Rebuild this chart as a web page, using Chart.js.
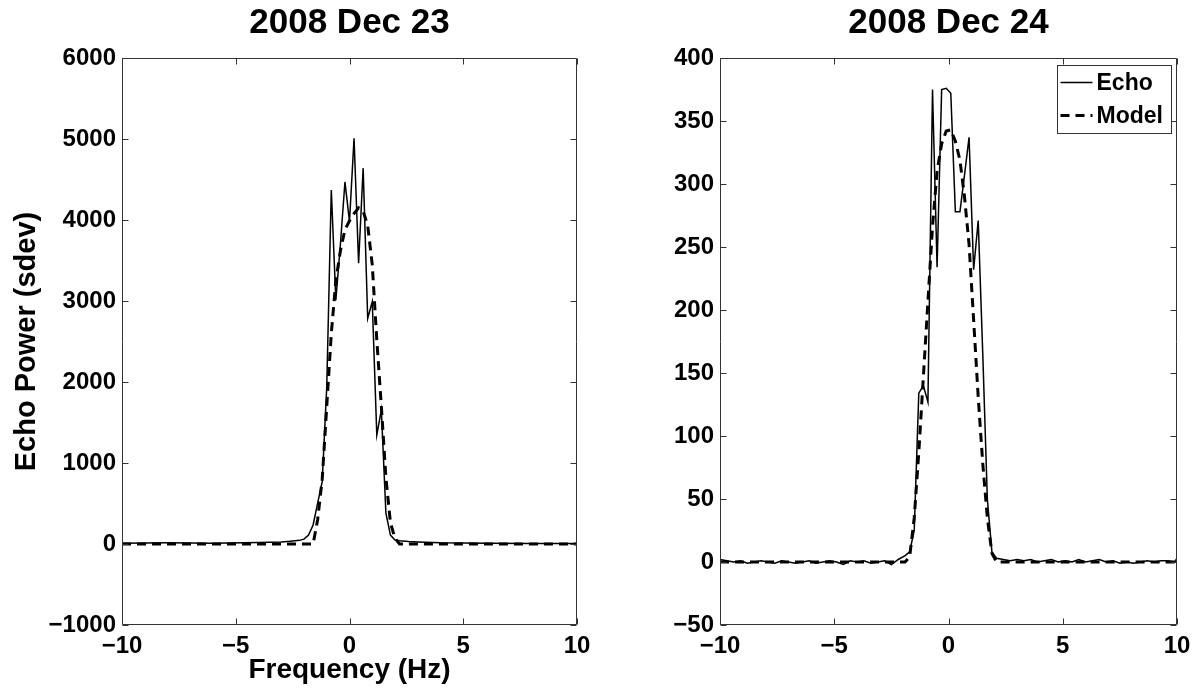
<!DOCTYPE html>
<html>
<head>
<meta charset="utf-8">
<title>Echo Power</title>
<script src="https://cdn.jsdelivr.net/npm/chart.js@4/dist/chart.umd.min.js"></script>
<style>
  body { margin: 0; background: #fff; }
  #wrap { position: relative; width: 1199px; height: 691px; }
  canvas { position: absolute; top: 0; }
  #chartDec23 { left: 0; }
  #chartDec24 { left: 600px; }
</style>
</head>
<body>
<div id="wrap">
  <canvas id="chartDec23" width="600" height="691"></canvas>
  <canvas id="chartDec24" width="599" height="691"></canvas>
</div>
<script>
// DATA
var freqTicks = [-10, -5, 0, 5, 10];
var powerTicks23 = [-1000, 0, 1000, 2000, 3000, 4000, 5000, 6000];
var powerTicks24 = [-50, 0, 50, 100, 150, 200, 250, 300, 350, 400];

// 2008 Dec 23
var echoFreq23 = [-10, -8, -6, -4, -3, -2.6, -2.2, -2.0, -1.8, -1.6, -1.4, -1.2, -1.0, -0.8, -0.6, -0.4, -0.2, 0, 0.2, 0.4, 0.6, 0.8, 1.0, 1.2, 1.4, 1.6, 1.8, 2.0, 2.2, 2.6, 3.0, 4, 6, 8, 10];
var echoPow23 = [10, 15, 10, 20, 25, 35, 45, 60, 110, 235, 505, 770, 1940, 4370, 3010, 3700, 4470, 3980, 5010, 3465, 4640, 2785, 2990, 1345, 1655, 380, 110, 50, 40, 30, 25, 15, 10, 5, 5];
var modelFreq23 = [-10, -1.6, -1.4, -1.2, -1.0, -0.8, -0.6, -0.4, -0.2, 0, 0.2, 0.4, 0.6, 0.8, 1.0, 1.2, 1.4, 1.6, 1.8, 2.0, 2.2, 10];
var modelPow23 = [0, 0, 300, 800, 1700, 2600, 3250, 3620, 3880, 3990, 4080, 4150, 4110, 3930, 3450, 2520, 1700, 820, 260, 70, 0, 0];

// 2008 Dec 24
var echoFreq24 = [-10, -9.7, -9.4, -9.1, -8.8, -8.5, -8.2, -7.9, -7.6, -7.3, -7.0, -6.7, -6.4, -6.1, -5.8, -5.5, -5.2, -4.9, -4.6, -4.3, -4.0, -3.7, -3.4, -3.1, -2.8, -2.5, -2.2, -1.9,
  -1.7, -1.5, -1.3, -1.1, -0.9, -0.7, -0.5, -0.3, -0.1, 0.1, 0.3, 0.5, 0.7, 0.9, 1.1, 1.3, 1.5, 1.7, 1.9,
  2.1, 2.4, 2.7, 3.0, 3.3, 3.6, 3.9, 4.2, 4.5, 4.8, 5.1, 5.4, 5.7, 6.0, 6.3, 6.6, 6.9, 7.2, 7.5, 7.8, 8.1, 8.4, 8.7, 9.0, 9.3, 9.6, 9.9, 10];
var echoPow24 = [2, 1, 0, 1, -1, 0, 1, 0, -1, 1, 0, -1, 0, 1, -1, 0, 1, 0, -2, 1, 0, 1, -1, 0, 1, -2, 2, 5,
  8, 25, 134, 140, 127, 375, 234, 375, 376, 372, 278, 278, 307, 337, 232, 271, 165, 50, 8,
  3, 2, 1, 2, 1, 2, 0, 1, 2, 0, 1, 0, 2, 0, 1, 2, 0, 1, -1, 0, -1, 0, 1, 0, 1, 1, 0, 3];
var modelFreq24 = [-10, -1.9, -1.7, -1.5, -1.3, -1.1, -0.9, -0.7, -0.5, -0.3, -0.1, 0.1, 0.3, 0.5, 0.7, 0.9, 1.1, 1.3, 1.5, 1.7, 1.9, 2.1, 10];
var modelPow24 = [0, 0, 4, 35, 87, 147, 207, 266, 310, 332, 342, 343, 334, 319, 290, 252, 192, 131, 78, 35, 7, 0, 0];

var fontFamily = '"Liberation Sans", Arial, Helvetica, sans-serif';

function toPoints(xs, ys) {
    return xs.map(function (x, i) { return { x: x, y: ys[i] }; });
}

function minusSign(v) {
    return String(v).replace('-', '\u2212');
}

// box round the plot with inward tick marks
var framePlugin = {
    id: 'frame',
    afterDatasetsDraw: function (chart) {
        var ctx = chart.ctx, a = chart.chartArea;
        var xs = chart.scales.x, ys = chart.scales.y;
        var l = Math.round(a.left) + 0.5, r = Math.round(a.right) - 0.5;
        var t = Math.round(a.top) + 0.5, b = Math.round(a.bottom) - 0.5;
        ctx.save();
        ctx.strokeStyle = '#333';
        ctx.lineWidth = 1;
        ctx.beginPath();
        ctx.rect(l, t, r - l, b - t);
        xs.ticks.forEach(function (tk) {
            var px = Math.round(xs.getPixelForValue(tk.value)) + 0.5;
            ctx.moveTo(px, b); ctx.lineTo(px, b - 6);
            ctx.moveTo(px, t); ctx.lineTo(px, t + 6);
        });
        ys.ticks.forEach(function (tk) {
            var py = Math.round(ys.getPixelForValue(tk.value)) + 0.5;
            ctx.moveTo(l, py); ctx.lineTo(l + 6, py);
            ctx.moveTo(r, py); ctx.lineTo(r - 6, py);
        });
        ctx.stroke();
        ctx.restore();
    }
};

// title above the plot
var titlePlugin = {
    id: 'plotTitle',
    afterDraw: function (chart) {
        var ctx = chart.ctx, a = chart.chartArea;
        ctx.save();
        ctx.fillStyle = '#000';
        ctx.font = 'bold 35px ' + fontFamily;
        ctx.textAlign = 'center';
        ctx.textBaseline = 'middle';
        ctx.fillText(chart.options.plugins.plotTitle.text, (a.left + a.right) / 2, 23);
        ctx.restore();
    }
};

// boxed legend in the top right corner
var boxLegendPlugin = {
    id: 'boxLegend',
    afterDraw: function (chart) {
        var opts = chart.options.plugins.boxLegend;
        if (!opts || !opts.display) return;
        var ctx = chart.ctx, a = chart.chartArea;
        var w = 114, h = 68;
        var x0 = Math.round(a.right - 6 - w) + 0.5, y0 = Math.round(a.top + 7) + 0.5;
        ctx.save();
        ctx.fillStyle = '#fff';
        ctx.fillRect(x0, y0, w, h);
        ctx.strokeStyle = '#333';
        ctx.lineWidth = 1;
        ctx.strokeRect(x0, y0, w, h);
        ctx.font = 'bold 23px ' + fontFamily;
        ctx.textBaseline = 'middle';
        ctx.fillStyle = '#000';
        chart.data.datasets.forEach(function (ds, i) {
            var yy = y0 + 17 + i * 33;
            ctx.strokeStyle = ds.borderColor;
            ctx.lineWidth = ds.borderWidth;
            ctx.setLineDash(ds.borderDash || []);
            ctx.beginPath();
            ctx.moveTo(x0 + 3, yy);
            ctx.lineTo(x0 + 35, yy);
            ctx.stroke();
            ctx.setLineDash([]);
            ctx.fillText(ds.label, x0 + 39, yy + 1);
        });
        ctx.restore();
    }
};

function makeChart(id, opts) {
    return new Chart(document.getElementById(id), {
        type: 'line',
        data: {
            datasets: [{
                label: 'Echo',
                data: toPoints(opts.echoFreq, opts.echoPow),
                borderColor: '#000',
                borderWidth: 1.5,
                pointRadius: 0,
                tension: 0,
                order: 1
            }, {
                label: 'Model',
                data: toPoints(opts.modelFreq, opts.modelPow),
                borderColor: '#000',
                borderWidth: 3,
                borderDash: [9, 6],
                pointRadius: 0,
                tension: 0,
                order: 0
            }]
        },
        options: {
            responsive: false,
            animation: false,
            devicePixelRatio: 1,
            layout: { padding: { top: 58, right: opts.padRight, left: 0, bottom: 0 } },
            plugins: {
                legend: { display: false },
                tooltip: { enabled: false },
                plotTitle: { text: opts.title },
                boxLegend: { display: opts.legend }
            },
            scales: {
                x: {
                    type: 'linear',
                    min: -10,
                    max: 10,
                    afterBuildTicks: function (scale) {
                        scale.ticks = freqTicks.map(function (v) { return { value: v }; });
                    },
                    afterFit: function (scale) { scale.height = 66; },
                    grid: { display: false, drawTicks: false },
                    border: { display: false },
                    ticks: {
                        color: '#000',
                        padding: 7,
                        maxRotation: 0,
                        font: { family: fontFamily, size: 24, weight: 'bold' },
                        callback: function (v) { return minusSign(v); }
                    },
                    title: {
                        display: opts.xTitle,
                        text: 'Frequency (Hz)',
                        color: '#000',
                        padding: { top: 0, bottom: 4 },
                        font: { family: fontFamily, size: 28, weight: 'bold' }
                    }
                },
                y: {
                    type: 'linear',
                    min: opts.yTicks[0],
                    max: opts.yTicks[opts.yTicks.length - 1],
                    afterBuildTicks: function (scale) {
                        scale.ticks = opts.yTicks.map(function (v) { return { value: v }; });
                    },
                    afterFit: function (scale) { scale.width = opts.yWidth; },
                    grid: { display: false, drawTicks: false },
                    border: { display: false },
                    ticks: {
                        color: '#000',
                        padding: 6,
                        font: { family: fontFamily, size: 24, weight: 'bold' },
                        callback: function (v) { return minusSign(v); }
                    },
                    title: {
                        display: opts.yTitle,
                        text: 'Echo Power (sdev)',
                        color: '#000',
                        padding: { top: 10, bottom: 0 },
                        font: { family: fontFamily, size: 29, weight: 'bold' }
                    }
                }
            }
        },
        plugins: [framePlugin, titlePlugin, boxLegendPlugin]
    });
}

// PLOTCHARTS
makeChart('chartDec23', {
    title: '2008 Dec 23',
    echoFreq: echoFreq23, echoPow: echoPow23,
    modelFreq: modelFreq23, modelPow: modelPow23,
    yTicks: powerTicks23,
    yWidth: 122, padRight: 23,
    xTitle: true, yTitle: true, legend: false
});

makeChart('chartDec24', {
    title: '2008 Dec 24',
    echoFreq: echoFreq24, echoPow: echoPow24,
    modelFreq: modelFreq24, modelPow: modelPow24,
    yTicks: powerTicks24,
    yWidth: 120, padRight: 22,
    xTitle: false, yTitle: false, legend: true
});
</script>
</body>
</html>
